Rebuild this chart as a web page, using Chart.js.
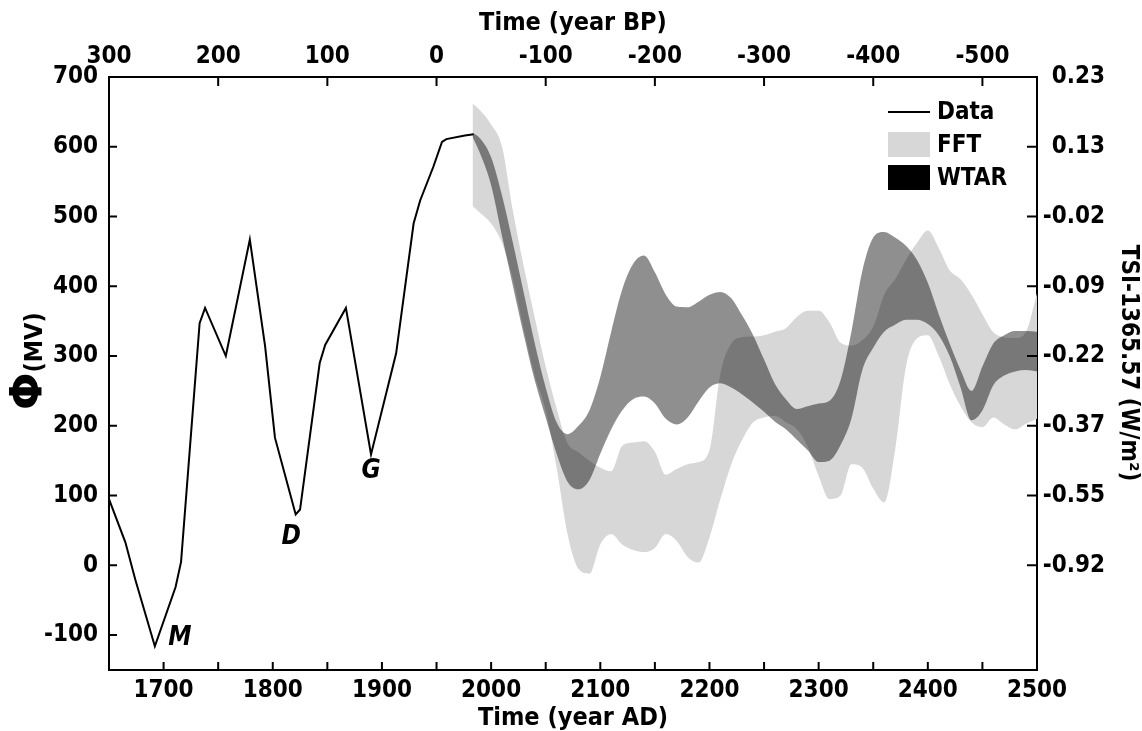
<!DOCTYPE html>
<html>
<head>
<meta charset="utf-8">
<script src="https://cdn.jsdelivr.net/npm/chart.js@4"></script>
<style>
    html, body { margin: 0; padding: 0; background: #fff; }
</style>
</head>
<body>
<canvas id="chart" width="1142" height="731"></canvas>
<script>
// Solar modulation potential record (year AD, MV)
const dataYears = [1650, 1665, 1674, 1692, 1711, 1716, 1733, 1738, 1757, 1779, 1793, 1802, 1821, 1825, 1843, 1848, 1867, 1890, 1913, 1929, 1935, 1947, 1955, 1959, 1976, 1984];
const dataPhi = [95, 33, -20, -116, -31, 5, 347, 369, 300, 467, 314, 183, 73, 80, 290, 316, 369, 159, 304, 490, 523, 571, 607, 611, 616, 618];

// forecast bands
const bandYears = [1983, 1990, 2000, 2010, 2020, 2030, 2040, 2050, 2060, 2070, 2080, 2090, 2100, 2110, 2120, 2130, 2140, 2150, 2160, 2170, 2180, 2190, 2200, 2210, 2220, 2230, 2240, 2250, 2260, 2270, 2280, 2290, 2300, 2310, 2320, 2330, 2340, 2350, 2360, 2370, 2380, 2390, 2400, 2410, 2420, 2430, 2440, 2450, 2460, 2470, 2480, 2490, 2500];
const fftUpper = [662, 652, 632, 600, 508, 428, 355, 285, 225, 175, 162, 150, 140, 135, 171, 176, 178, 163, 130, 138, 145, 148, 165, 275, 318, 327, 328, 330, 335, 340, 356, 365, 365, 348, 319, 315, 323, 342, 388, 410, 438, 462, 480, 455, 423, 410, 388, 360, 334, 327, 326, 335, 390];
const fftLower = [515, 505, 490, 462, 410, 338, 272, 222, 140, 45, -5, -12, 30, 45, 30, 22, 19, 25, 45, 35, 12, 4, 40, 95, 145, 180, 205, 212, 214, 205, 195, 170, 128, 95, 100, 145, 140, 110, 90, 165, 285, 325, 330, 300, 260, 228, 205, 198, 212, 202, 195, 203, 210];
const wtarUpper = [620, 612, 585, 530, 462, 390, 318, 255, 205, 188, 200, 222, 270, 335, 395, 432, 444, 420, 388, 371, 370, 378, 388, 392, 383, 358, 330, 295, 260, 238, 224, 228, 232, 236, 265, 335, 422, 470, 478, 470, 458, 438, 405, 360, 318, 280, 250, 285, 318, 330, 336, 336, 335];
const wtarLower = [614, 590, 545, 472, 400, 330, 265, 212, 160, 120, 109, 122, 160, 195, 222, 238, 242, 232, 210, 202, 212, 235, 255, 261, 255, 245, 233, 220, 206, 195, 180, 165, 148, 150, 172, 210, 280, 312, 335, 345, 352, 352, 346, 330, 300, 255, 208, 222, 258, 272, 278, 280, 278];

// axes
const adLabels = [1700, 1800, 1900, 2000, 2100, 2200, 2300, 2400, 2500];
const bpLabels = [300, 200, 100, 0, -100, -200, -300, -400, -500];
const phiTicks = [-100, 0, 100, 200, 300, 400, 500, 600, 700];
const tsiLevels = [700, 600, 500, 400, 300, 200, 100, 0];
const tsiLabels = ['0.23', '0.13', '-0.02', '-0.09', '-0.22', '-0.37', '-0.55', '-0.92'];

// grand minima: Maunder, Dalton, Gleissberg
const minimaNames = ['M', 'D', 'G'];
const minimaYears = [1715, 1817, 1890];
const minimaPhi = [-104, 40, 135];

const FONT = "'DejaVu Sans Condensed', 'DejaVu Sans', sans-serif";
const FFT_COLOR = '#d7d7d7';
const WTAR_COLOR = 'rgba(0, 0, 0, 0.44)';

const toPoints = (xs, ys) => xs.map((x, i) => ({ x: x, y: ys[i] }));

const bandStyle = {
    borderWidth: 0,
    borderColor: 'transparent',
    pointRadius: 0,
    cubicInterpolationMode: 'monotone',
};

const decorations = {
    id: 'decorations',
    afterDraw(chart) {
        const ctx = chart.ctx;
        const { x, x2, y, y2 } = chart.scales;
        const area = chart.chartArea;
        ctx.save();

        // ticks pointing inward
        ctx.strokeStyle = '#000';
        ctx.lineWidth = 2;
        ctx.beginPath();
        x.ticks.forEach((t) => {
            const px = x.getPixelForValue(t.value);
            if (px > area.left + 2 && px < area.right - 2) {
                ctx.moveTo(px, area.bottom);
                ctx.lineTo(px, area.bottom - 8);
            }
        });
        x2.ticks.forEach((t) => {
            const px = x2.getPixelForValue(t.value);
            if (px > area.left + 2 && px < area.right - 2) {
                ctx.moveTo(px, area.top);
                ctx.lineTo(px, area.top + 9);
            }
        });
        y.ticks.forEach((t) => {
            const py = y.getPixelForValue(t.value);
            if (py > area.top + 2) {
                ctx.moveTo(area.left, py);
                ctx.lineTo(area.left + 8, py);
            }
        });
        y2.ticks.forEach((t) => {
            const py = y2.getPixelForValue(t.value);
            if (py > area.top + 2) {
                ctx.moveTo(area.right, py);
                ctx.lineTo(area.right - 10, py);
            }
        });
        ctx.stroke();

        ctx.fillStyle = '#000';

        // minima letters
        ctx.font = `italic bold 26px ${FONT}`;
        ctx.textAlign = 'center';
        ctx.textBaseline = 'middle';
        minimaNames.forEach((name, i) => {
            ctx.fillText(name, x.getPixelForValue(minimaYears[i]), y.getPixelForValue(minimaPhi[i]));
        });

        // legend
        const ds = chart.data.datasets;
        const lx = area.right - 149;
        const tx = area.right - 100;
        ctx.font = `bold 24px ${FONT}`;
        ctx.textAlign = 'left';
        ctx.beginPath();
        ctx.lineWidth = 2;
        ctx.moveTo(lx, area.top + 35);
        ctx.lineTo(lx + 42, area.top + 35);
        ctx.stroke();
        ctx.fillText(ds[0].label, tx, area.top + 36);
        ctx.fillStyle = FFT_COLOR;
        ctx.fillRect(lx, area.top + 55, 42, 25);
        ctx.fillStyle = '#000';
        ctx.fillText(ds[3].label, tx, area.top + 69);
        ctx.fillRect(lx, area.top + 88, 42, 25);
        ctx.fillText(ds[1].label, tx, area.top + 102);

        // axis titles
        const cx = (area.left + area.right) / 2;
        ctx.font = `bold 25px ${FONT}`;
        ctx.textAlign = 'center';
        ctx.fillText('Time (year BP)', cx, 23);
        ctx.fillText('Time (year AD)', cx, 718);

        ctx.save();
        ctx.translate(1128, 363);
        ctx.rotate(Math.PI / 2);
        ctx.font = `bold 24px ${FONT}`;
        ctx.fillText('TSI-1365.57 (W/m\u00B2)', 0, 0);
        ctx.restore();

        ctx.save();
        ctx.translate(42, 410);
        ctx.rotate(-Math.PI / 2);
        ctx.textAlign = 'left';
        ctx.textBaseline = 'alphabetic';
        ctx.font = "bold 44px 'DejaVu Sans', sans-serif";
        ctx.fillText('\u03A6', 0, 0);
        const w = ctx.measureText('\u03A6').width;
        ctx.font = `bold 25px ${FONT}`;
        ctx.fillText('(MV)', w, 0);
        ctx.restore();

        ctx.restore();
    },
};

const tickFont = { family: FONT, size: 24, weight: 'bold' };
const axisBorder = { display: true, color: '#000', width: 2 };

new Chart(document.getElementById('chart'), {
    type: 'line',
    data: {
        datasets: [
            {
                label: 'Data',
                data: toPoints(dataYears, dataPhi),
                borderColor: '#000',
                borderWidth: 2,
                pointRadius: 0,
                tension: 0,
                fill: false,
            },
            {
                label: 'WTAR',
                data: toPoints(bandYears, wtarUpper),
                ...bandStyle,
                backgroundColor: WTAR_COLOR,
                fill: { target: '+1', above: WTAR_COLOR, below: WTAR_COLOR },
            },
            {
                label: '',
                data: toPoints(bandYears, wtarLower),
                ...bandStyle,
                fill: false,
            },
            {
                label: 'FFT',
                data: toPoints(bandYears, fftUpper),
                ...bandStyle,
                backgroundColor: FFT_COLOR,
                fill: { target: '+1', above: FFT_COLOR, below: FFT_COLOR },
            },
            {
                label: '',
                data: toPoints(bandYears, fftLower),
                ...bandStyle,
                fill: false,
            },
        ],
    },
    options: {
        responsive: false,
        animation: false,
        devicePixelRatio: 1,
        layout: { padding: { right: 37 } },
        plugins: {
            legend: { display: false },
            tooltip: { enabled: false },
        },
        scales: {
            x: {
                type: 'linear',
                position: 'bottom',
                min: 1650,
                max: 2500,
                afterFit: (scale) => { scale.height = 61; },
                grid: { display: false },
                border: axisBorder,
                ticks: {
                    stepSize: 50,
                    autoSkip: false,
                    maxRotation: 0,
                    padding: -2,
                    color: '#000',
                    font: tickFont,
                    callback: (v) => (adLabels.includes(v) ? String(v) : ''),
                },
            },
            x2: {
                type: 'linear',
                position: 'top',
                min: 1650,
                max: 2500,
                afterFit: (scale) => { scale.height = 77; },
                afterBuildTicks: (scale) => {
                    scale.ticks = bpLabels.map((bp) => ({ value: 1950 - bp }));
                },
                grid: { display: false },
                border: axisBorder,
                ticks: {
                    autoSkip: false,
                    maxRotation: 0,
                    padding: -2,
                    color: '#000',
                    font: tickFont,
                    callback: (v) => String(1950 - v),
                },
            },
            y: {
                type: 'linear',
                position: 'left',
                min: -150,
                max: 700,
                afterFit: (scale) => { scale.width = 109; },
                afterBuildTicks: (scale) => {
                    scale.ticks = phiTicks.map((v) => ({ value: v }));
                },
                grid: { display: false },
                border: axisBorder,
                ticks: {
                    padding: 3,
                    color: '#000',
                    font: tickFont,
                },
            },
            y2: {
                type: 'linear',
                position: 'right',
                min: -150,
                max: 700,
                afterFit: (scale) => { scale.width = 68; },
                afterBuildTicks: (scale) => {
                    scale.ticks = tsiLevels.map((v) => ({ value: v }));
                },
                grid: { display: false },
                border: axisBorder,
                ticks: {
                    padding: 6,
                    crossAlign: 'far',
                    color: '#000',
                    font: tickFont,
                    callback: (v) => tsiLabels[tsiLevels.indexOf(v)],
                },
            },
        },
    },
    plugins: [decorations],
});
</script>
</body>
</html>
